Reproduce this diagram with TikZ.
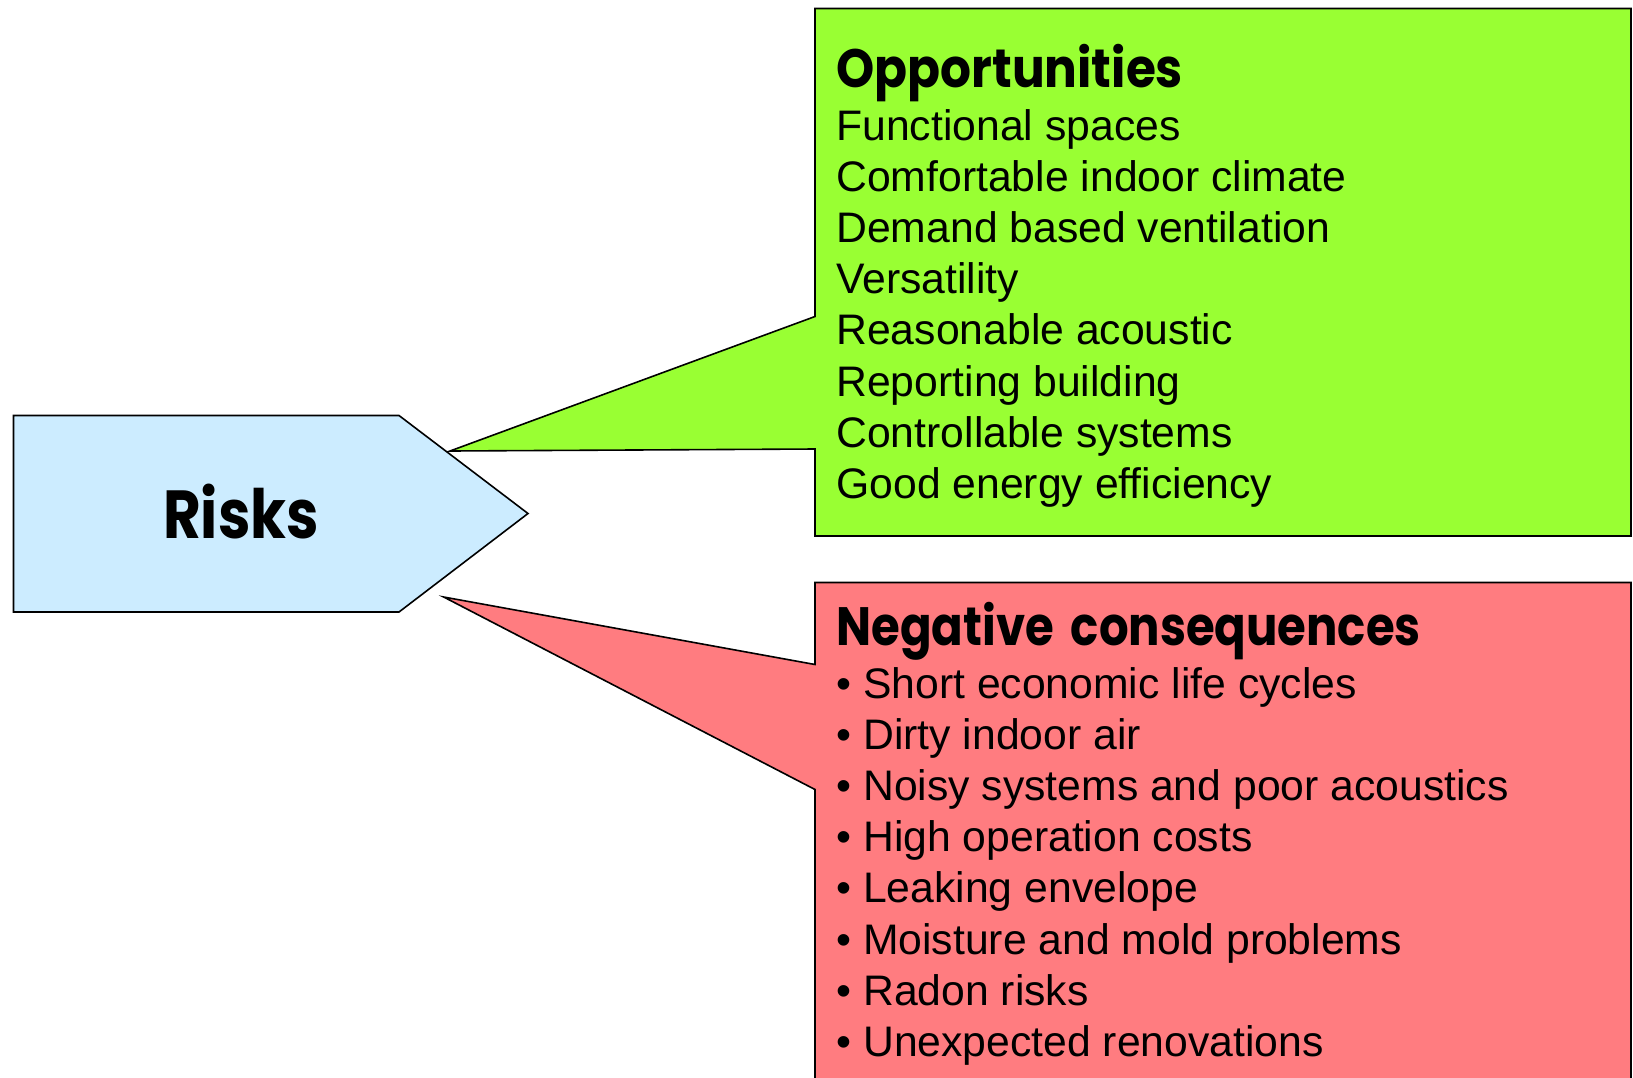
\documentclass[tikz,border=0pt]{standalone}
\usepackage{fontspec}
\setmainfont{Liberation Sans}
\newfontfamily\titlefont{Poppins}
\definecolor{oppgreen}{RGB}{153,255,51}
\definecolor{negred}{RGB}{255,124,128}
\definecolor{riskblue}{RGB}{204,236,255}
\begin{document}
\begin{tikzpicture}[x=0.5pt,y=-0.5pt,line join=miter,
  shapeline/.style={draw=black,line width=0.8pt},
  bodytext/.style={anchor=base west,inner sep=0pt,font=\fontsize{21.35}{25.6}\selectfont},
  titletext/.style={anchor=base west,inner sep=0pt,font=\titlefont\bfseries\fontsize{27}{32}\selectfont}]
\useasboundingbox (0,0) rectangle (1633,1077);
\clip (0,0) rectangle (1633,1077);
% Risks pentagon
\coordinate (r1) at (13.5,415.5);
\coordinate (r2) at (399,415.5);
\coordinate (r3) at (528,513.5);
\coordinate (r4) at (399,612);
\coordinate (r5) at (13.5,612);
\draw[shapeline,fill=riskblue] (r1) -- (r2) -- (r3) -- (r4) -- (r5) -- cycle;
\node[font=\titlefont\bfseries\fontsize{34}{40}\selectfont,anchor=base,inner sep=0pt] (risks) at (241,538.5) {\scalebox{0.855}[1]{Risks}};
% Opportunities callout
\coordinate (g1) at (815,8.5);
\coordinate (g2) at (1631,8.5);
\coordinate (g3) at (1631,536);
\coordinate (g4) at (815,536);
\coordinate (g5) at (815,449);
\coordinate (gtip) at (450,451);
\coordinate (g6) at (815,316.5);
\draw[shapeline,fill=oppgreen] (g1) -- (g2) -- (g3) -- (g4) -- (g5) -- (gtip) -- (g6) -- cycle;
% Negative callout
\coordinate (n1) at (815,582.5);
\coordinate (n2) at (1631,582.5);
\coordinate (n3) at (1631,1090);
\coordinate (n4) at (815,1090);
\coordinate (n5) at (815,789.5);
\coordinate (ntip) at (443.7,597);
\coordinate (n6) at (815,664.5);
\draw[shapeline,fill=negred] (n1) -- (n2) -- (n3) -- (n4) -- (n5) -- (ntip) -- (n6) -- cycle;
% texts
\node[titletext] (opptitle) at (836,87) {\scalebox{0.9}[1]{Opportunities}};
\foreach \t [count=\i] in {Functional spaces,Comfortable indoor climate,Demand based ventilation,Versatility,Reasonable acoustic,Reporting building,Controllable systems,Good energy efficiency}
  \node[bodytext] (opp\i) at (836,{140+(\i-1)*51.2}) {\t};
\node[titletext] (negtitle) at (836,645.5) {\scalebox{0.863}[1]{Negative\hspace{0.15em} consequences}};
\foreach \t [count=\i] in {Short economic life cycles,Dirty indoor air,Noisy systems and poor acoustics,High operation costs,Leaking envelope,Moisture and mold problems,Radon risks,Unexpected renovations}
  \node[bodytext] (neg\i) at (836,{698+(\i-1)*51.2}) {• \t};
\end{tikzpicture}
\end{document}
